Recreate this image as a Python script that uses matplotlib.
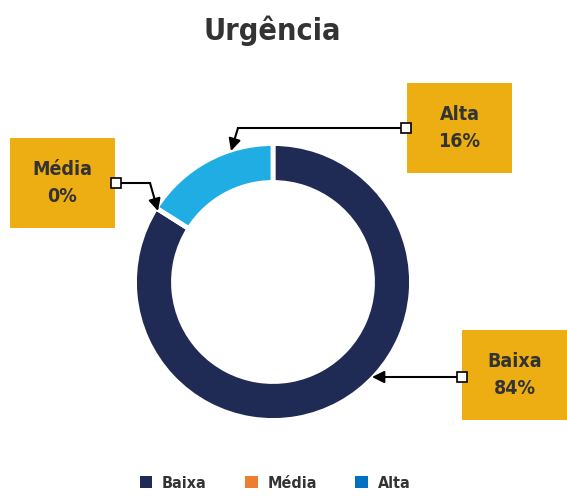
import matplotlib.pyplot as plt
from matplotlib.patches import Patch

# dados
categorias = ["Baixa", "Média", "Alta"]
valores = [84, 0, 16]
rotulos = ["84%", "0%", "16%"]
cores_fatia = ["#1F2A55", "#ED7D31", "#1FADE4"]
cores_legenda = ["#1F2A55", "#ED7D31", "#0070C0"]

fonte = "DejaVu Sans"
cor_texto = "#333333"
amarelo = "#EDAE13"

W, H = 567, 497
fig = plt.figure(figsize=(W / 100, H / 100), dpi=100)
ax = fig.add_axes([0, 0, 1, 1])

# rosca (coordenadas em pixels, y para cima); a borda branca come ~2.5px de cada lado
ax.pie(valores, colors=cores_fatia, radius=138.5, center=(273, H - 282),
       startangle=90, counterclock=False,
       wedgeprops=dict(width=39, edgecolor="white", linewidth=3.5))
ax.set_xlim(0, W)
ax.set_ylim(0, H)
ax.set_aspect("equal")
ax.axis("off")

fig.text(272 / W, 1 - 31 / H, "Urgência", ha="center", va="center",
         fontsize=22, fontweight="bold", fontstretch="condensed", family=fonte,
         color=cor_texto)

# caixas de rotulo: (x0, y0, x1, y1) em px, ponto de saida, cotovelo, ponta
caixas = {
    "Média": ((10, 138, 115, 228), (116, 183), (150, 183), (158, 211)),
    "Alta": ((407, 83, 512, 173), (406, 128), (238, 128), (231, 151)),
    "Baixa": ((462, 330, 567, 420), (462, 377), (462, 377), (372, 377)),
}
for cat, rot in zip(categorias, rotulos):
    (x0, y0, x1, y1), p0, pc, pt = caixas[cat]
    ax.add_patch(plt.Rectangle((x0, H - y1), x1 - x0, y1 - y0,
                               facecolor=amarelo, edgecolor="none", zorder=3))
    ax.text((x0 + x1) / 2, H - (y0 + y1) / 2, f"{cat}\n{rot}", ha="center",
            va="center", fontsize=14, fontweight="bold", fontstretch="condensed",
            family=fonte, color=cor_texto, linespacing=1.55, zorder=4)
    ax.plot([p0[0], pc[0]], [H - p0[1], H - pc[1]], color="black", lw=1.5, zorder=4)
    ax.annotate("", xy=(pt[0], H - pt[1]), xytext=(pc[0], H - pc[1]),
                arrowprops=dict(arrowstyle="-|>", color="black", lw=1.5,
                                mutation_scale=18, shrinkA=0, shrinkB=0), zorder=4)
    ax.plot(p0[0], H - p0[1], marker="s", ms=7, mfc="white", mec="black",
            mew=1.2, zorder=5)

handles = [Patch(facecolor=c, label=l) for c, l in zip(cores_legenda, categorias)]
leg = fig.legend(handles=handles, loc="center", bbox_to_anchor=(275 / W, 1 - 483 / H),
                 ncol=3, frameon=False, handlelength=0.8, handleheight=0.8,
                 columnspacing=2.4, handletextpad=0.6,
                 prop=dict(family=fonte, weight="bold", stretch="condensed", size=11.5))
for t in leg.get_texts():
    t.set_color(cor_texto)

plt.savefig("out.png", dpi=100)
plt.close()
